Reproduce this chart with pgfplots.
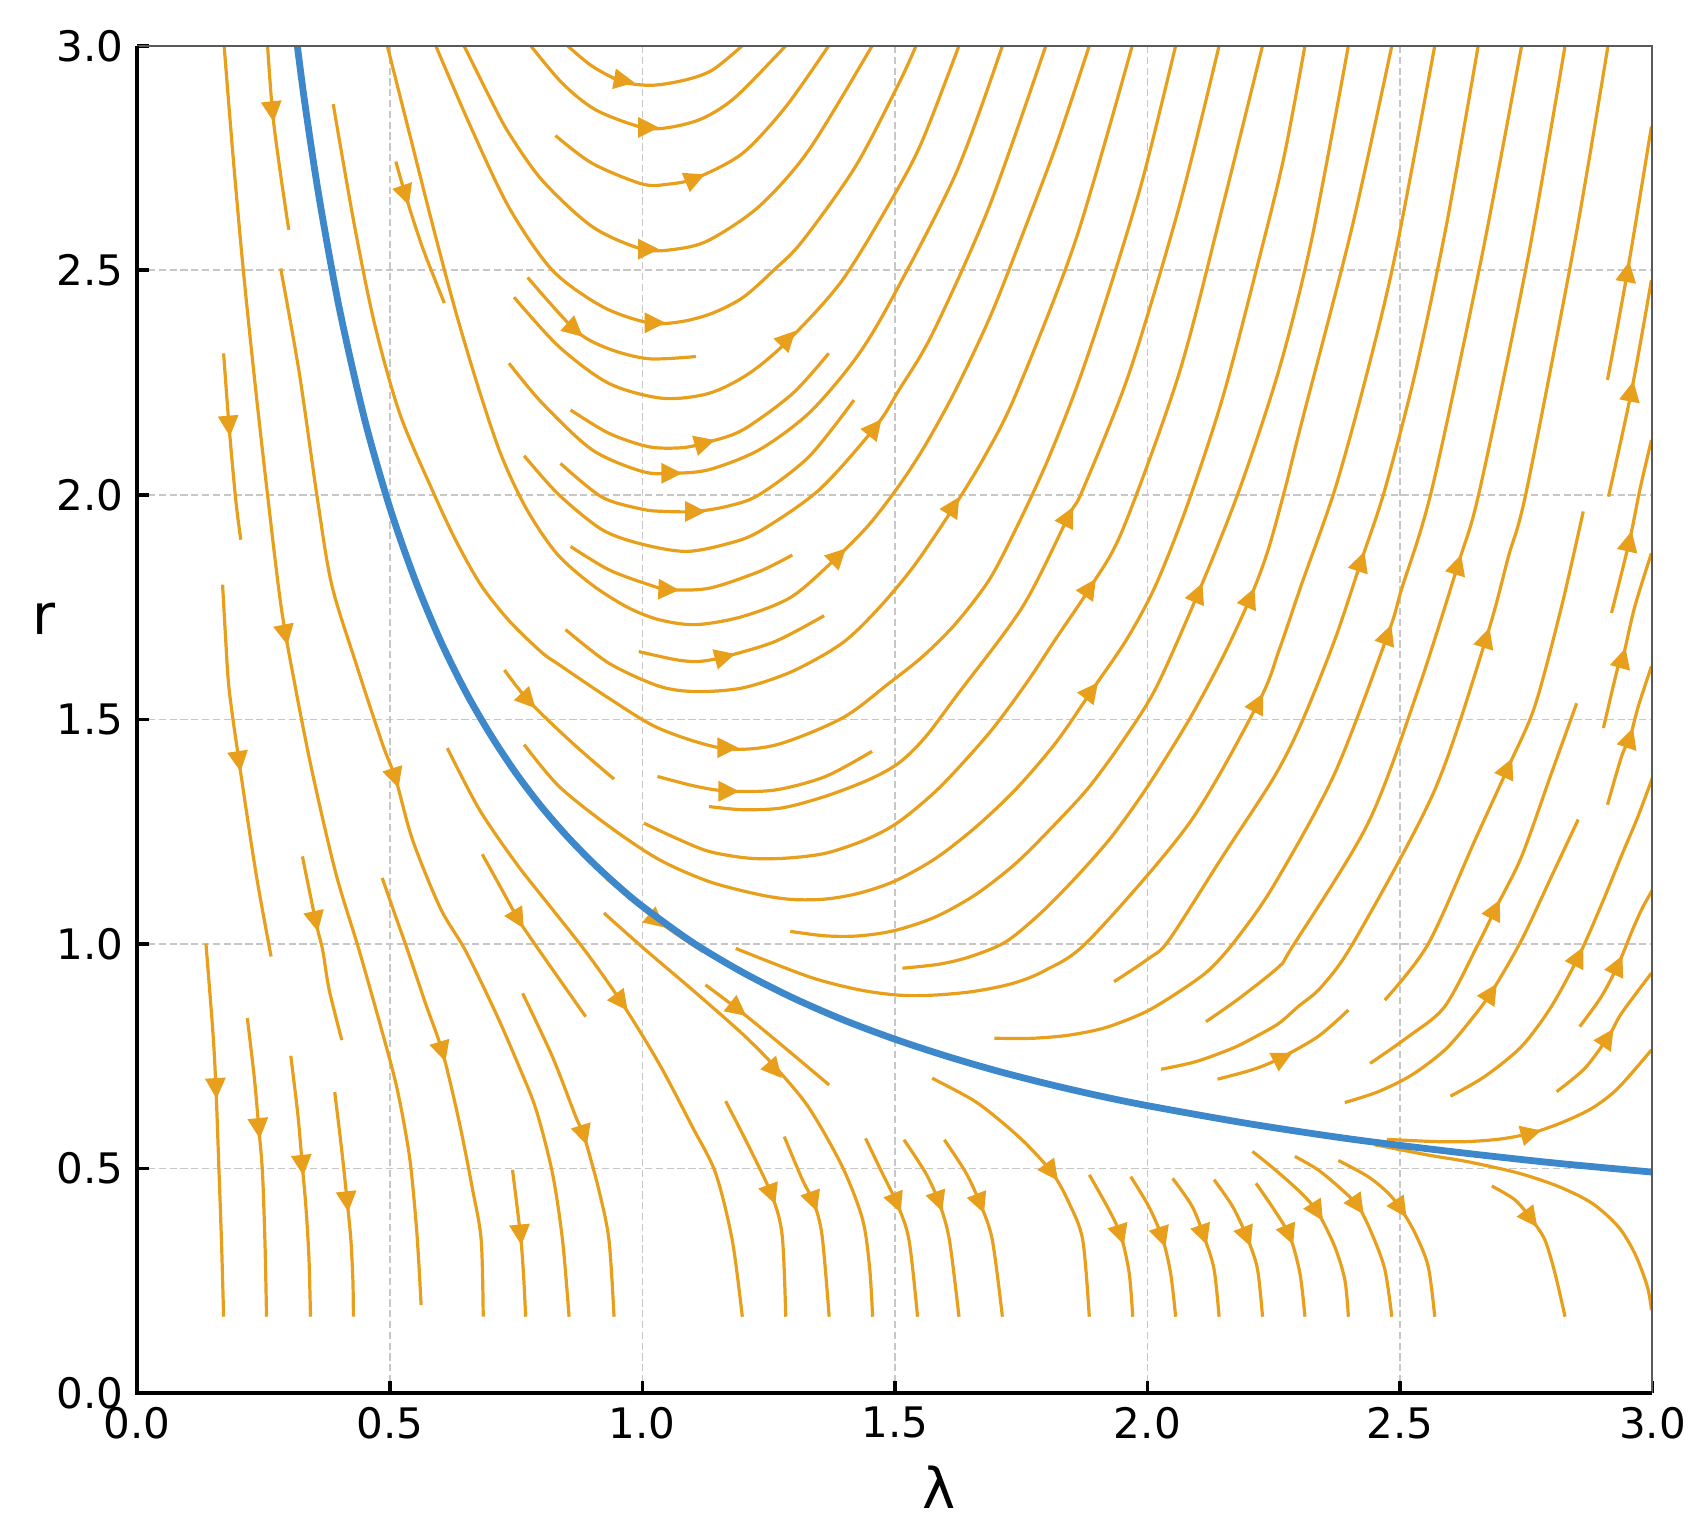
\documentclass[border=0pt]{standalone}
\usepackage{fontspec}
\setmainfont{DejaVu Sans}
\usepackage{pgfplots}
\pgfplotsset{compat=1.18}
\usetikzlibrary{arrows.meta,calc}
\definecolor{strm}{RGB}{232,160,28}
\definecolor{blu}{RGB}{60,136,202}
\pgfplotsset{
  stream/.style={no markers, color=strm, line width=0.8pt, smooth},
  arr/.style={no markers, color=strm, line width=0.8pt, -{Triangle[length=5.2pt,width=5pt]}},
}
\begin{document}
\begin{tikzpicture}
\begin{axis}[
  scale only axis, width=13.307cm, height=11.833cm,
  xmin=0, xmax=3, ymin=0, ymax=3,
  xtick={0,0.5,1,1.5,2,2.5,3}, ytick={0,0.5,1,1.5,2,2.5,3},
  /pgf/number format/.cd, fixed, fixed zerofill, precision=1, assume math mode=true, /pgfplots/.cd,
  ticklabel style={font=\fontsize{10.5}{12}\selectfont},
  tick align=inside, tick pos=left,
  major tick length=3pt, tick style={black, line width=0.9pt},
  grid=major, major grid style={black!22, line width=0.4pt, dash pattern=on 1.8pt off 0.9pt},
  axis line style={draw=none},
  clip mode=individual,
]
% left region, flow downwards
\addplot[stream] coordinates {(0.136,1.001) (0.150,0.80) (0.156,0.675) (0.162,0.49) (0.167,0.33) (0.171,0.17)};
\addplot[stream] coordinates {(0.171,2.315) (0.182,2.15) (0.195,1.989) (0.205,1.90)};
\addplot[stream] coordinates {(0.172,3.0) (0.19,2.75) (0.21,2.5) (0.233,2.25) (0.258,2.0) (0.285,1.75) (0.314,1.566) (0.347,1.38) (0.393,1.158) (0.439,0.987) (0.486,0.80) (0.515,0.675) (0.539,0.527) (0.552,0.38) (0.558,0.28) (0.562,0.196)};
\addplot[stream] coordinates {(0.258,3.0) (0.268,2.85) (0.283,2.72) (0.30,2.59)};
\addplot[stream] coordinates {(0.284,2.504) (0.321,2.27) (0.357,1.989) (0.385,1.80) (0.433,1.625) (0.485,1.447) (0.512,1.366) (0.545,1.232) (0.60,1.08) (0.65,0.985) (0.71,0.846) (0.756,0.727) (0.79,0.63) (0.822,0.49) (0.842,0.341) (0.855,0.17)};
\addplot[stream] coordinates {(0.169,1.80) (0.175,1.68) (0.182,1.566) (0.202,1.403) (0.235,1.158) (0.265,0.972)};
\addplot[stream] coordinates {(0.327,1.195) (0.354,1.047) (0.367,0.987) (0.38,0.898) (0.405,0.786)};
\addplot[stream] coordinates {(0.485,1.147) (0.512,1.06) (0.535,0.987) (0.57,0.87) (0.605,0.757) (0.638,0.601) (0.664,0.453) (0.681,0.341) (0.685,0.17)};
\addplot[stream] coordinates {(0.218,0.835) (0.232,0.70) (0.241,0.586) (0.248,0.49) (0.253,0.33) (0.256,0.17)};
\addplot[stream] coordinates {(0.304,0.751) (0.318,0.62) (0.327,0.504) (0.334,0.414) (0.34,0.3) (0.343,0.17)};
\addplot[stream] coordinates {(0.391,0.67) (0.405,0.54) (0.416,0.423) (0.423,0.341) (0.427,0.25) (0.428,0.17)};
\addplot[stream] coordinates {(0.743,0.497) (0.759,0.349) (0.765,0.26) (0.769,0.17)};
\addplot[stream] coordinates {(0.763,0.89) (0.822,0.749) (0.868,0.616) (0.885,0.571) (0.914,0.452) (0.934,0.341) (0.944,0.17)};
\addplot[stream] coordinates {(0.683,1.20) (0.72,1.125) (0.756,1.052) (0.795,0.987) (0.888,0.838)};
\addplot[stream] coordinates {(0.614,1.436) (0.677,1.30) (0.75,1.18) (0.82,1.08) (0.89,0.98) (0.96,0.868) (1.033,0.734) (1.099,0.593) (1.145,0.49) (1.178,0.341) (1.198,0.17)};
\addplot[stream] coordinates {(0.924,1.069) (1.003,0.99) (1.099,0.898) (1.198,0.80) (1.264,0.725) (1.33,0.635) (1.396,0.504) (1.436,0.387) (1.45,0.28) (1.456,0.17)};
\addplot[stream] coordinates {(1.125,0.909) (1.191,0.853) (1.264,0.786) (1.37,0.686)};
\addplot[stream] coordinates {(1.165,0.65) (1.211,0.549) (1.257,0.439) (1.277,0.35) (1.284,0.17)};
\addplot[stream] coordinates {(1.281,0.571) (1.317,0.475) (1.34,0.423) (1.356,0.35) (1.37,0.17)};
\addplot[stream] coordinates {(1.442,0.567) (1.475,0.49) (1.505,0.42) (1.528,0.341) (1.545,0.17)};
\addplot[stream] coordinates {(1.518,0.564) (1.561,0.49) (1.588,0.423) (1.608,0.341) (1.627,0.17)};
\addplot[stream] coordinates {(1.598,0.564) (1.641,0.49) (1.67,0.419) (1.693,0.341) (1.713,0.17)};
\addplot[stream] coordinates {(1.574,0.701) (1.654,0.653) (1.707,0.608) (1.759,0.556) (1.812,0.49) (1.845,0.423) (1.872,0.341) (1.885,0.17)};
\addplot[stream] coordinates {(1.885,0.486) (1.924,0.408) (1.948,0.349) (1.964,0.267) (1.971,0.17)};
\addplot[stream] coordinates {(1.967,0.482) (2.003,0.415) (2.03,0.344) (2.046,0.267) (2.056,0.17)};
\addplot[stream] coordinates {(2.05,0.478) (2.089,0.415) (2.112,0.349) (2.132,0.276) (2.142,0.17)};
\addplot[stream] coordinates {(2.132,0.475) (2.169,0.415) (2.198,0.345) (2.218,0.276) (2.228,0.17)};
\addplot[stream] coordinates {(2.215,0.467) (2.25,0.41) (2.282,0.349) (2.302,0.267) (2.312,0.17)};
\addplot[stream] coordinates {(2.208,0.538) (2.25,0.50) (2.305,0.445) (2.338,0.401) (2.371,0.326) (2.391,0.252) (2.398,0.17)};
\addplot[stream] coordinates {(2.292,0.527) (2.338,0.497) (2.385,0.453) (2.418,0.415) (2.444,0.356) (2.47,0.276) (2.484,0.17)};
\addplot[stream] coordinates {(2.378,0.518) (2.437,0.482) (2.477,0.445) (2.503,0.408) (2.53,0.356) (2.556,0.282) (2.569,0.17)};
\addplot[stream] coordinates {(2.682,0.461) (2.728,0.43) (2.761,0.386) (2.787,0.341) (2.807,0.267) (2.827,0.17)};
\addplot[stream] coordinates {(2.45,0.553) (2.556,0.53) (2.635,0.515) (2.734,0.49) (2.814,0.46) (2.88,0.423) (2.932,0.371) (2.965,0.311) (2.99,0.237) (2.998,0.185)};
\addplot[stream] coordinates {(2.474,0.565) (2.569,0.56) (2.635,0.56) (2.701,0.566) (2.761,0.579) (2.82,0.602) (2.88,0.634) (2.932,0.679) (2.998,0.764)};
\addplot[stream] coordinates {(0.93,1.145) (1.03,1.052) (1.12,0.983)};
% upper region, U-shaped streamlines
\addplot[stream] coordinates {(0.852,3.0) (0.90,2.955) (0.96,2.92) (1.02,2.912) (1.086,2.924) (1.139,2.946) (1.198,3.0)};
\addplot[stream] coordinates {(0.779,3.0) (0.842,2.916) (0.908,2.857) (1.0,2.818) (1.053,2.818) (1.119,2.838) (1.185,2.886) (1.284,3.0)};
\addplot[stream] coordinates {(0.828,2.80) (0.901,2.738) (1.0,2.692) (1.053,2.692) (1.106,2.705) (1.198,2.76) (1.284,2.864) (1.369,3.0)};
\addplot[stream] coordinates {(0.647,3.0) (0.70,2.88) (0.736,2.805) (0.802,2.70) (0.901,2.597) (1.0,2.547) (1.066,2.547) (1.132,2.567) (1.231,2.642) (1.33,2.768) (1.455,3.0)};
\addplot[stream] coordinates {(0.591,3.0) (0.66,2.82) (0.736,2.64) (0.822,2.50) (0.921,2.419) (1.013,2.383) (1.079,2.386) (1.14,2.405) (1.20,2.44) (1.26,2.50) (1.317,2.565) (1.422,2.731) (1.508,2.916) (1.542,3.0)};
\addplot[stream] coordinates {(0.773,2.484) (0.868,2.366) (0.934,2.325) (1.013,2.303) (1.106,2.308)};
\addplot[stream] coordinates {(0.746,2.44) (0.835,2.33) (0.934,2.248) (1.04,2.215) (1.132,2.226) (1.211,2.27) (1.29,2.345) (1.396,2.478) (1.50,2.67) (1.555,2.79) (1.627,3.0)};
\addplot[stream] coordinates {(0.858,2.189) (0.934,2.137) (1.013,2.107) (1.079,2.105) (1.125,2.116) (1.198,2.144) (1.297,2.225) (1.369,2.315)};
\addplot[stream] coordinates {(0.736,2.293) (0.802,2.204) (0.901,2.10) (1.0,2.052) (1.059,2.048) (1.132,2.056) (1.231,2.10) (1.33,2.182) (1.42,2.30) (1.489,2.426) (1.621,2.716) (1.713,3.0)};
\addplot[stream] coordinates {(0.838,2.07) (0.92,1.995) (1.0,1.968) (1.046,1.963) (1.106,1.963) (1.17,1.975) (1.231,2.0) (1.33,2.085) (1.419,2.211)};
\addplot[stream] coordinates {(0.766,2.087) (0.835,2.0) (0.921,1.922) (1.0,1.89) (1.086,1.874) (1.165,1.89) (1.231,1.918) (1.35,2.011) (1.462,2.152) (1.508,2.233) (1.575,2.36) (1.687,2.642) (1.799,3.0)};
\addplot[stream] coordinates {(0.858,1.885) (0.934,1.833) (1.013,1.80) (1.053,1.789) (1.132,1.792) (1.231,1.829) (1.297,1.866)};
\addplot[stream] coordinates {(0.495,3.0) (0.54,2.80) (0.585,2.60) (0.63,2.41) (0.675,2.24) (0.72,2.09) (0.77,1.97) (0.83,1.87) (0.90,1.80) (0.97,1.75) (1.033,1.722) (1.106,1.711) (1.198,1.729) (1.297,1.774) (1.39,1.866) (1.45,1.935) (1.508,2.02) (1.56,2.11) (1.621,2.235) (1.69,2.40) (1.753,2.58) (1.82,2.78) (1.885,3.0)};
\addplot[stream] coordinates {(0.848,1.70) (0.934,1.625) (1.033,1.574) (1.106,1.562) (1.198,1.57) (1.297,1.607) (1.396,1.67) (1.47,1.75) (1.54,1.845) (1.618,1.975) (1.68,2.09) (1.74,2.225) (1.858,2.567) (1.97,3.0)};
\addplot[stream] coordinates {(0.388,2.87) (0.43,2.6) (0.47,2.38) (0.52,2.18) (0.584,2.011) (0.63,1.90) (0.68,1.80) (0.736,1.72) (0.80,1.65) (0.835,1.622) (0.934,1.547) (1.033,1.48) (1.158,1.436) (1.264,1.443) (1.396,1.503) (1.489,1.581) (1.555,1.64) (1.621,1.714) (1.687,1.811) (1.74,1.925) (1.80,2.07) (1.86,2.24) (1.92,2.44) (1.99,2.70) (2.056,3.0)};
\addplot[stream] coordinates {(0.993,1.651) (1.066,1.633) (1.112,1.629) (1.165,1.64) (1.264,1.674) (1.36,1.731)};
\addplot[stream] coordinates {(1.03,1.373) (1.106,1.351) (1.172,1.34) (1.264,1.343) (1.363,1.373) (1.455,1.429)};
\addplot[stream] coordinates {(0.727,1.61) (0.776,1.54) (0.862,1.447) (0.944,1.367)};
\addplot[stream] coordinates {(1.132,1.306) (1.198,1.299) (1.277,1.303) (1.363,1.329) (1.449,1.366) (1.508,1.403) (1.56,1.46) (1.621,1.551) (1.753,1.751) (1.845,1.955) (1.872,2.011) (1.964,2.271) (2.063,2.642) (2.142,3.0)};
\addplot[stream] coordinates {(1.003,1.269) (1.066,1.236) (1.132,1.206) (1.211,1.191) (1.284,1.191) (1.363,1.202) (1.442,1.232) (1.508,1.272) (1.59,1.35) (1.687,1.47) (1.76,1.58) (1.819,1.68) (1.888,1.796) (1.951,1.922) (2.063,2.271) (2.149,2.642) (2.228,3.0)};
\addplot[stream] coordinates {(0.766,1.444) (0.835,1.351) (0.934,1.262) (1.033,1.188) (1.132,1.139) (1.231,1.11) (1.297,1.099) (1.363,1.10) (1.429,1.113) (1.50,1.14) (1.58,1.19) (1.66,1.26) (1.74,1.345) (1.82,1.45) (1.891,1.566) (1.96,1.68) (2.017,1.80) (2.08,1.98) (2.15,2.22) (2.22,2.52) (2.27,2.75) (2.312,3.0)};
\addplot[stream] coordinates {(1.293,1.028) (1.363,1.018) (1.429,1.018) (1.50,1.03) (1.58,1.06) (1.66,1.11) (1.74,1.18) (1.82,1.27) (1.885,1.35) (1.95,1.45) (2.017,1.57) (2.102,1.785) (2.182,2.011) (2.261,2.28) (2.325,2.567) (2.398,3.0)};
\addplot[stream] coordinates {(1.515,0.946) (1.588,0.955) (1.65,0.972) (1.72,1.005) (1.79,1.07) (1.86,1.15) (1.93,1.24) (2.0,1.35) (2.083,1.50) (2.15,1.64) (2.205,1.774) (2.239,1.877) (2.272,2.011) (2.305,2.159) (2.404,2.59) (2.484,3.0)};
\addplot[stream] coordinates {(1.185,0.99) (1.33,0.927) (1.429,0.898) (1.508,0.886) (1.575,0.886) (1.654,0.894) (1.733,0.912) (1.799,0.942) (1.885,1.009) (2.083,1.269) (2.221,1.54) (2.261,1.655) (2.305,1.80) (2.371,2.011) (2.43,2.25) (2.49,2.53) (2.569,3.0)};
\addplot[stream] coordinates {(1.934,0.916) (2.003,0.968) (2.043,1.009) (2.149,1.195) (2.25,1.37) (2.305,1.492) (2.371,1.677) (2.424,1.855) (2.47,2.011) (2.53,2.27) (2.592,2.6) (2.655,3.0)};
\addplot[stream] coordinates {(1.697,0.79) (1.773,0.79) (1.845,0.797) (1.918,0.814) (1.997,0.849) (2.063,0.894) (2.122,0.942) (2.175,1.009) (2.25,1.13) (2.371,1.38) (2.477,1.692) (2.503,1.789) (2.563,2.011) (2.662,2.53) (2.741,3.0)};
\addplot[stream] coordinates {(2.116,0.827) (2.182,0.879) (2.261,0.95) (2.285,0.99) (2.437,1.269) (2.536,1.566) (2.616,1.848) (2.658,2.011) (2.754,2.53) (2.827,3.0)};
\addplot[stream] coordinates {(2.027,0.721) (2.096,0.738) (2.169,0.768) (2.215,0.794) (2.26,0.823) (2.299,0.861) (2.345,0.905) (2.411,1.009) (2.569,1.343) (2.672,1.685) (2.715,1.863) (2.751,2.011) (2.847,2.568) (2.912,3.0)};
\addplot[stream] coordinates {(2.139,0.699) (2.208,0.72) (2.26,0.744) (2.338,0.794) (2.398,0.853)};
\addplot[stream] coordinates {(2.47,0.875) (2.556,1.0) (2.649,1.232) (2.715,1.395) (2.767,1.529) (2.82,1.751) (2.863,1.963)};
\addplot[stream] coordinates {(2.441,0.734) (2.517,0.794) (2.589,0.861) (2.655,1.0) (2.69,1.08) (2.741,1.195) (2.8,1.38) (2.85,1.536)};
\addplot[stream] coordinates {(2.391,0.647) (2.457,0.671) (2.523,0.708) (2.589,0.764) (2.64,0.83) (2.682,0.894) (2.741,1.009) (2.80,1.15) (2.853,1.277)};
\addplot[stream] coordinates {(2.6,0.661) (2.668,0.705) (2.741,0.772) (2.8,0.861) (2.855,0.975) (2.9,1.09) (2.94,1.2) (2.97,1.28) (3.0,1.37)};
\addplot[stream] coordinates {(2.856,0.816) (2.899,0.883) (2.933,0.956) (2.96,1.03) (2.98,1.08) (3.0,1.12)};
\addplot[stream] coordinates {(2.81,0.671) (2.866,0.723) (2.913,0.794) (2.939,0.846) (2.998,0.935)};
\addplot[stream] coordinates {(2.911,1.31) (2.939,1.418) (2.956,1.462) (2.972,1.529) (2.998,1.618)};
\addplot[stream] coordinates {(2.903,1.481) (2.932,1.618) (2.942,1.64) (2.965,1.751) (2.998,1.87)};
\addplot[stream] coordinates {(2.919,1.737) (2.955,1.90) (2.975,2.011) (2.998,2.122)};
\addplot[stream] coordinates {(2.913,1.996) (2.959,2.234) (2.998,2.478)};
\addplot[stream] coordinates {(2.911,2.256) (2.951,2.50) (2.998,2.82)};
\addplot[stream] coordinates {(0.512,2.742) (0.532,2.664) (0.565,2.55) (0.608,2.427)};
% arrow heads (tail, head)
\addplot[arr] coordinates {(0.155,0.695) (0.157,0.655)};
\addplot[arr] coordinates {(0.1805,2.17) (0.1835,2.13)};
\addplot[arr] coordinates {(0.2905,1.7047) (0.2975,1.6653)};
\addplot[arr] coordinates {(0.266,2.87) (0.27,2.83)};
\addplot[arr] coordinates {(0.5066,1.3852) (0.5174,1.3468)};
\addplot[arr] coordinates {(0.1994,1.4228) (0.2046,1.3832)};
\addplot[arr] coordinates {(0.3502,1.0666) (0.3578,1.0274)};
\addplot[arr] coordinates {(0.5998,0.7763) (0.6102,0.7377)};
\addplot[arr] coordinates {(0.2393,0.606) (0.2427,0.566)};
\addplot[arr] coordinates {(0.3252,0.524) (0.3288,0.484)};
\addplot[arr] coordinates {(0.4141,0.443) (0.4179,0.403)};
\addplot[arr] coordinates {(0.7574,0.369) (0.7606,0.329)};
\addplot[arr] coordinates {(0.8796,0.5903) (0.8904,0.5517)};
\addplot[arr] coordinates {(0.7467,1.0697) (0.7653,1.0343)};
\addplot[arr] coordinates {(0.949,0.8848) (0.971,0.8512)};
\addplot[arr] coordinates {(1.2517,0.7328) (1.2763,0.7012)};
\addplot[arr] coordinates {(1.176,0.8663) (1.206,0.8397)};
\addplot[arr] coordinates {(1.2507,0.458) (1.2633,0.42)};
\addplot[arr] coordinates {(1.334,0.442) (1.346,0.404)};
\addplot[arr] coordinates {(1.4983,0.4388) (1.5117,0.4012)};
\addplot[arr] coordinates {(1.582,0.442) (1.594,0.404)};
\addplot[arr] coordinates {(1.6634,0.4379) (1.6766,0.4001)};
\addplot[arr] coordinates {(1.8011,0.5068) (1.8229,0.4732)};
\addplot[arr] coordinates {(1.9425,0.3682) (1.9535,0.3298)};
\addplot[arr] coordinates {(2.0244,0.3632) (2.0356,0.3248)};
\addplot[arr] coordinates {(2.1061,0.3681) (2.1179,0.3299)};
\addplot[arr] coordinates {(2.1914,0.3639) (2.2046,0.3261)};
\addplot[arr] coordinates {(2.2752,0.3678) (2.2888,0.3302)};
\addplot[arr] coordinates {(2.3283,0.4185) (2.3477,0.3835)};
\addplot[arr] coordinates {(2.4076,0.4321) (2.4284,0.3979)};
\addplot[arr] coordinates {(2.4928,0.4252) (2.5132,0.3908)};
\addplot[arr] coordinates {(2.75,0.4027) (2.772,0.3693)};
\addplot[arr] coordinates {(1.0153,1.0636) (1.0447,1.0364)};
\addplot[arr] coordinates {(0.9454,2.926) (0.9846,2.918)};
\addplot[arr] coordinates {(0.993,2.818) (1.033,2.818)};
\addplot[arr] coordinates {(1.088,2.6965) (1.124,2.7135)};
\addplot[arr] coordinates {(0.993,2.547) (1.033,2.547)};
\addplot[arr] coordinates {(1.006,2.383) (1.046,2.383)};
\addplot[arr] coordinates {(0.8538,2.3801) (0.8822,2.3519)};
\addplot[arr] coordinates {(1.277,2.3348) (1.303,2.3652)};
\addplot[arr] coordinates {(1.106,2.1098) (1.144,2.1222)};
\addplot[arr] coordinates {(1.039,2.048) (1.079,2.048)};
\addplot[arr] coordinates {(1.086,1.963) (1.126,1.963)};
\addplot[arr] coordinates {(1.4504,2.1357) (1.4736,2.1683)};
\addplot[arr] coordinates {(1.033,1.79) (1.073,1.788)};
\addplot[arr] coordinates {(1.3767,1.8511) (1.4033,1.8809)};
\addplot[arr] coordinates {(1.6083,1.9605) (1.6277,1.9955)};
\addplot[arr] coordinates {(1.15,1.437) (1.19,1.437)};
\addplot[arr] coordinates {(1.146,1.6343) (1.184,1.6457)};
\addplot[arr] coordinates {(1.152,1.34) (1.192,1.34)};
\addplot[arr] coordinates {(0.7632,1.5554) (0.7888,1.5246)};
\addplot[arr] coordinates {(1.8367,1.9368) (1.8533,1.9732)};
\addplot[arr] coordinates {(1.8778,1.7788) (1.8982,1.8132)};
\addplot[arr] coordinates {(1.8797,1.5495) (1.9023,1.5825)};
\addplot[arr] coordinates {(2.095,1.7662) (2.109,1.8038)};
\addplot[arr] coordinates {(2.1979,1.7553) (2.2121,1.7927)};
\addplot[arr] coordinates {(2.2126,1.5218) (2.2294,1.5582)};
\addplot[arr] coordinates {(2.4183,1.8358) (2.4297,1.8742)};
\addplot[arr] coordinates {(2.4709,1.673) (2.4831,1.711)};
\addplot[arr] coordinates {(2.6107,1.8287) (2.6213,1.8673)};
\addplot[arr] coordinates {(2.6666,1.6657) (2.6774,1.7043)};
\addplot[arr] coordinates {(2.2526,0.7381) (2.2874,0.7579)};
\addplot[arr] coordinates {(2.7076,1.3764) (2.7224,1.4136)};
\addplot[arr] coordinates {(2.6819,1.0617) (2.6981,1.0983)};
\addplot[arr] coordinates {(2.6722,0.8766) (2.6918,0.9114)};
\addplot[arr] coordinates {(2.847,0.9567) (2.863,0.9933)};
\addplot[arr] coordinates {(2.9253,0.9375) (2.9407,0.9745)};
\addplot[arr] coordinates {(2.9028,0.7768) (2.9232,0.8112)};
\addplot[arr] coordinates {(2.7419,0.5732) (2.7801,0.5848)};
\addplot[arr] coordinates {(2.9503,1.4428) (2.9617,1.4812)};
\addplot[arr] coordinates {(2.9372,1.6206) (2.9468,1.6594)};
\addplot[arr] coordinates {(2.951,1.8804) (2.959,1.9196)};
\addplot[arr] coordinates {(2.9556,2.2143) (2.9624,2.2537)};
\addplot[arr] coordinates {(2.948,2.4802) (2.954,2.5198)};
\addplot[arr] coordinates {(0.5262,2.6831) (0.5378,2.6449)};
% separatrix
\addplot[no markers, color=blu, line width=1.7pt, smooth] coordinates {
 (0.305,3.107) (0.33,2.887) (0.36,2.663) (0.40,2.416) (0.45,2.169) (0.50,1.972)
 (0.55,1.811) (0.60,1.676) (0.65,1.562) (0.70,1.465) (0.75,1.380) (0.80,1.306)
 (0.85,1.241) (0.90,1.183) (0.95,1.131) (1.00,1.084) (1.1,1.003) (1.2,0.936)
 (1.3,0.879) (1.4,0.830) (1.5,0.788) (1.6,0.751) (1.7,0.718) (1.8,0.689)
 (1.9,0.663) (2.0,0.640) (2.2,0.600) (2.4,0.566) (2.6,0.538) (2.8,0.513) (3.0,0.492)};
\coordinate (SW) at (rel axis cs:0,0);
\coordinate (NE) at (rel axis cs:1,1);
\node[font=\fontsize{14}{16}\selectfont] at (axis description cs:0.529,-0.0695) {λ};
\node[font=\fontsize{14}{16}\selectfont] at (axis description cs:-0.0618,0.5748) {r};
\end{axis}
\draw[black!65, line width=0.5pt] (SW |- NE) -- (NE) -- (NE |- SW);
\draw[black, line width=1pt] (SW |- NE) -- (SW) -- (NE |- SW);
\pgfresetboundingbox
\path[use as bounding box] ($(SW)+(-1.2054cm,-1.2245cm)$) rectangle ($(NE)+(0.4879cm,0.4018cm)$);
\end{tikzpicture}
\end{document}
